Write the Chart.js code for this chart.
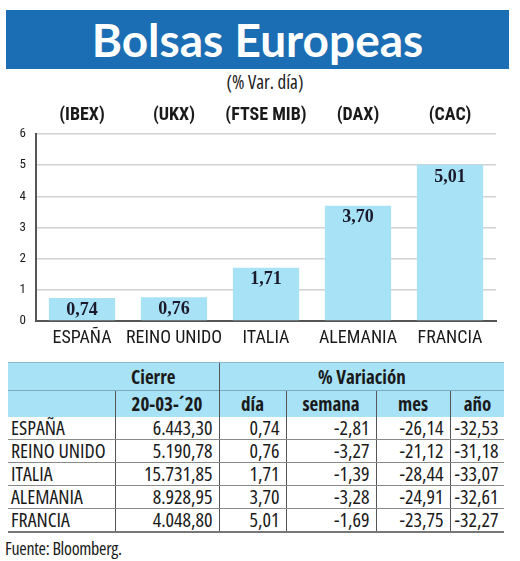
<!DOCTYPE html>
<html>
<head>
<meta charset="utf-8">
<script src="https://cdn.jsdelivr.net/npm/chart.js@4"></script>
<style>
  body { margin: 0; background: #fff; width: 520px; height: 561px; position: relative; overflow: hidden; font-family: "Open Sans", sans-serif; font-stretch: condensed; color: #1a1a1a; }
  #banner { position: absolute; left: 6px; top: 10px; width: 503px; height: 59px; background: #1b6eb4; color: #fff; text-align: center; font: bold 46px Lato, sans-serif; line-height: 59px; }
  #sub { position: absolute; left: 0; width: 530px; top: 69px; text-align: center; font-size: 19px; }
  #wrap { position: absolute; left: 0; top: 100px; }
  table { position: absolute; left: 8px; top: 362px; border-collapse: collapse; table-layout: fixed; font-size: 20px; }
  td { padding: 0 4px; white-space: nowrap; overflow: hidden; }
  tr.h td { background: #a8e2f6; font-weight: bold; text-align: center; font-size: 19px; }
  tr.h1 td { height: 27px; border-top: 1px solid #8fb8cc; }
  tr.h2 td { height: 24px; border-top: 1px solid #7fa9bc; }
  tr.d td { height: 22px; line-height: 22px; border-bottom: 1.5px solid #8a8a8a; text-align: right; padding-right: 6px; }
  tr.d:last-child td { border-bottom: 2px solid #777; }
  tr.d td:first-child { text-align: left; padding-left: 3px; }
  .vl { border-left: 1px solid #555; }
  #fuente { position: absolute; left: 5px; top: 536px; font-size: 18px; letter-spacing: -0.3px; }
</style>
</head>
<body>
<div id="banner">Bolsas Europeas</div>
<div id="sub">(% Var. día)</div>
<div id="wrap"><canvas id="chart" width="520" height="255"></canvas></div>
<table id="tabla"></table>
<div id="fuente">Fuente: Bloomberg.</div>
<script>
// datos
const paises = ["ESPAÑA", "REINO UNIDO", "ITALIA", "ALEMANIA", "FRANCIA"];
const indices = ["(IBEX)", "(UKX)", "(FTSE MIB)", "(DAX)", "(CAC)"];
const varDia = [0.74, 0.76, 1.71, 3.70, 5.01];
const cierre = [6443.30, 5190.78, 15731.85, 8928.95, 4048.80];
const varSemana = [-2.81, -3.27, -1.39, -3.28, -1.69];
const varMes = [-26.14, -21.12, -28.44, -24.91, -23.75];
const varAno = [-32.53, -31.18, -33.07, -32.61, -32.27];
const fechaCierre = "20-03-´20";

//number with comma decimals and dot thousands
function fmt(v) {
  let parts = v.toFixed(2).split(".");
  parts[0] = parts[0].replace(/\B(?=(\d{3})+(?!\d))/g, ".");
  return parts.join(",");
}

//labels inside the bars
const valueLabels = {
  id: "valueLabels",
  afterDatasetsDraw(chart) {
    const ctx = chart.ctx;
    const meta = chart.getDatasetMeta(0);
    ctx.save();
    ctx.font = 'bold 18px "Liberation Serif"';
    ctx.fillStyle = "#1a1a2a";
    ctx.textAlign = "center";
    ctx.textBaseline = "middle";
    meta.data.forEach((bar, i) => {
      ctx.fillText(fmt(varDia[i]), bar.x, bar.y + 12);
    });
    ctx.restore();
  },
};

new Chart(document.getElementById("chart"), {
  type: "bar",
  plugins: [valueLabels],
  data: {
    labels: paises,
    datasets: [
      {
        data: varDia,
        backgroundColor: "#a8e2f6",
        barPercentage: 0.72,
        categoryPercentage: 1,
      },
    ],
  },
  options: {
    responsive: false,
    animation: false,
    layout: { padding: { left: 0, right: 24, top: 0, bottom: 0 } },
    plugins: { legend: { display: false }, tooltip: { enabled: false } },
    scales: {
      x: {
        position: "bottom",
        grid: { display: false, drawTicks: false },
        border: { color: "#555", width: 2 },
        ticks: { color: "#1a1a1a", font: { family: "Roboto Condensed", size: 18 }, padding: 7, maxRotation: 0, minRotation: 0, autoSkip: false },
        afterFit: (s) => { s.height = 34; },
      },
      x2: {
        type: "category",
        position: "top",
        labels: indices,
        grid: { display: false, drawTicks: false },
        border: { display: false },
        ticks: { color: "#1a1a1a", font: { family: "Roboto Condensed", size: 18, weight: "bold" }, padding: 8, maxRotation: 0, minRotation: 0, autoSkip: false },
        afterFit: (s) => { s.height = 34; },
      },
      y: {
        min: 0,
        max: 6,
        ticks: { stepSize: 1, color: "#1a1a1a", font: { family: "Roboto Condensed", size: 13 }, padding: 10 },
        grid: { color: "#d2d2d2", lineWidth: 1.5, drawTicks: false },
        border: { color: "#555", width: 2 },
        afterFit: (s) => { s.width = 36; },
      },
    },
  },
});

//table
const colW = [107, 104, 67, 90, 74, 53];
let html = "<colgroup>" + colW.map((w) => `<col style="width:${w}px">`).join("") + "</colgroup>";
html += `<tr class="h h1"><td colspan="2" style="padding-left:84px">Cierre</td><td colspan="4" class="vl">% Variación</td></tr>`;
html += `<tr class="h h2"><td></td><td class="vl">${fechaCierre}</td><td class="vl">día</td><td class="vl">semana</td><td class="vl">mes</td><td class="vl">año</td></tr>`;
paises.forEach((p, i) => {
  html += `<tr class="d"><td>${p}</td><td class="vl">${fmt(cierre[i])}</td><td class="vl">${fmt(varDia[i])}</td><td class="vl">${fmt(varSemana[i])}</td><td class="vl">${fmt(varMes[i])}</td><td class="vl">${fmt(varAno[i])}</td></tr>`;
});
document.getElementById("tabla").innerHTML = html;
</script>
</body>
</html>
